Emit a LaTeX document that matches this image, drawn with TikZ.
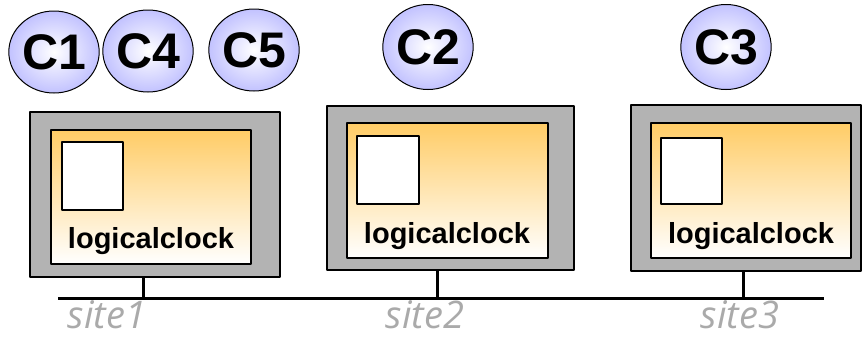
\documentclass[tikz,border=0pt]{standalone}
\usepackage{fontspec}
\setmainfont{Liberation Sans}
\newfontfamily\sitefont{Open Sans}
\usetikzlibrary{shapes.geometric}
\definecolor{boxgray}{RGB}{179,179,179}
\definecolor{clockorange}{RGB}{255,204,102}
\definecolor{threadblue}{RGB}{194,194,255}
\definecolor{labelgray}{RGB}{170,170,170}
\begin{document}
\begin{tikzpicture}[x=1pt,y=-1pt,line join=round,
	thread/.style={ellipse,draw,line width=1pt,shading=radial,inner color=white,outer color=threadblue,minimum width=88pt,minimum height=82pt,inner sep=0pt,font=\fontsize{50}{50}\selectfont\bfseries},
	machine/.style={draw,line width=1.5pt,fill=boxgray,inner sep=0pt},
	process/.style={draw,line width=1.5pt,top color=clockorange,bottom color=white,inner sep=0pt,minimum width=200pt,minimum height=135pt},
	memory/.style={draw,line width=1.2pt,fill=white,inner sep=0pt,minimum width=61pt,minimum height=67pt},
	clock/.style={anchor=base,font=\fontsize{29}{29}\selectfont\bfseries},
	site/.style={anchor=base,inner sep=0pt,text=labelgray,font=\fontsize{38}{38}\selectfont\sitefont\itshape},
	bus/.style={line width=3pt}]
	\useasboundingbox (0,0) rectangle (862,338);
	\node[thread] (C1) at (54,52) {C1};
	\node[thread] (C4) at (148,51) {C4};
	\node[thread] (C5) at (254,50) {C5};
	\node[thread,minimum width=87pt,minimum height=85pt] (C2) at (428,47) {C2};
	\node[thread,minimum width=87pt,minimum height=85pt] (C3) at (726,47) {C3};
	\node[machine,minimum width=250pt,minimum height=165pt] (host1) at (155,194.5) {};
	\node[machine,minimum width=247pt,minimum height=164pt] (host2) at (450.5,188) {};
	\node[machine,minimum width=230pt,minimum height=166pt] (host3) at (746,188) {};
	\node[process,minimum height=134pt] (pc1) at (151,197) {};
	\node[process,minimum width=201pt] (pc2) at (447.5,190.5) {};
	\node[process] (pc3) at (751,190.5) {};
	\node[memory,minimum height=68pt] (mem1) at (92.5,176) {};
	\node[memory,minimum width=62pt,minimum height=68pt] (mem2) at (388,170) {};
	\node[memory,minimum height=66pt] (mem3) at (691.5,171) {};
	\node[clock] (lc1) at (151,248) {logicalclock};
	\node[clock] (lc2) at (447,243) {logicalclock};
	\node[clock] (lc3) at (751,243) {logicalclock};
	\coordinate (busW) at (58,298);
	\coordinate (busE) at (824,298);
	\coordinate (foot1) at (143,298);
	\coordinate (foot2) at (437,298);
	\coordinate (foot3) at (743,298);
	\draw[bus] (busW)--(busE);
	\draw[bus] (foot1 |- host1.south)--(foot1) (foot2 |- host2.south)--(foot2) (foot3 |- host3.south)--(foot3);
	\node[site] (site1) at (107,328) {site1};
	\node[site] (site2) at (425,328) {site2};
	\node[site] (site3) at (740,328) {site3};
\end{tikzpicture}
\end{document}
